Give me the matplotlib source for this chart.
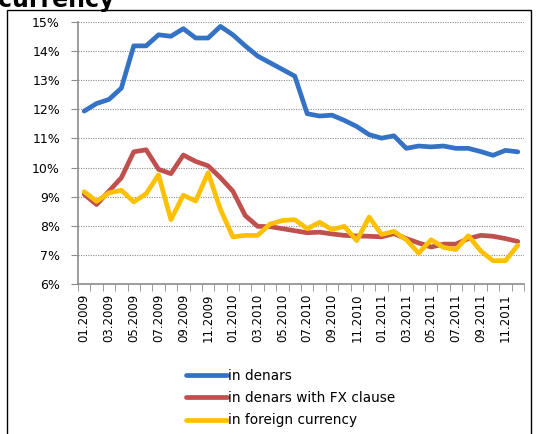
import numpy as np
import matplotlib
matplotlib.use("Agg")
import matplotlib.pyplot as plt
from matplotlib.patches import Rectangle

months = [f"{m:02d}.{y}" for y in (2009, 2010, 2011) for m in range(1, 13)]

in_denars = [11.94, 12.20, 12.34, 12.73, 14.18, 14.18, 14.56, 14.51, 14.77, 14.45, 14.45, 14.85,
             14.56, 14.18, 13.83, 13.60, 13.37, 13.14, 11.85, 11.77, 11.80, 11.62, 11.41, 11.13,
             11.01, 11.09, 10.66, 10.74, 10.71, 10.74, 10.66, 10.66, 10.55, 10.42, 10.59, 10.54]
fx_clause = [9.08, 8.73, 9.19, 9.65, 10.54, 10.61, 9.94, 9.79, 10.43, 10.21, 10.06, 9.65,
             9.19, 8.35, 7.98, 7.97, 7.90, 7.83, 7.76, 7.78, 7.72, 7.67, 7.65, 7.64,
             7.62, 7.73, 7.56, 7.41, 7.27, 7.37, 7.37, 7.56, 7.67, 7.64, 7.56, 7.46]
foreign = [9.17, 8.84, 9.13, 9.22, 8.82, 9.10, 9.75, 8.21, 9.05, 8.85, 9.82, 8.56,
           7.62, 7.67, 7.67, 8.06, 8.18, 8.21, 7.90, 8.12, 7.87, 7.98, 7.49, 8.30,
           7.70, 7.81, 7.52, 7.06, 7.52, 7.26, 7.18, 7.66, 7.14, 6.80, 6.80, 7.33]

W, H = 544, 434
fig = plt.figure(figsize=(W / 100, H / 100), dpi=100)
ax = fig.add_axes([78 / W, 1 - 284 / H, (524 - 78) / W, (284 - 22) / H])

x = np.arange(len(months))
ax.plot(x, in_denars, color="#3472C6", lw=3.4, label="in denars", solid_capstyle="round")
ax.plot(x, fx_clause, color="#C0504D", lw=3.4, label="in denars with FX clause", solid_capstyle="round")
ax.plot(x, foreign, color="#FFC000", lw=3.4, label="in foreign currency", solid_capstyle="round")

ax.set_xlim(-0.5, len(months) - 0.5)
ax.set_ylim(6, 15)
ax.set_yticks(np.arange(6, 16, 1))
ax.set_yticklabels([f"{v}%" for v in range(6, 16)], fontsize=9)
for v in range(7, 16):
    ax.axhline(v, color="#8c8c8c", lw=0.8, ls=(0, (1, 1.2)), zorder=0)

ax.set_xticks(x[::2])
ax.set_xticklabels(months[::2], rotation=90, fontsize=8.5)
ax.set_xticks(np.arange(-0.5, len(months), 1), minor=True)
ax.tick_params(axis="x", which="major", length=0, pad=7)
ax.tick_params(axis="x", which="minor", length=5, color="#8c8c8c", direction="out")
ax.tick_params(axis="y", length=5, color="#8c8c8c", pad=8)

for s in ("top", "right"):
    ax.spines[s].set_visible(False)
for s in ("left", "bottom"):
    ax.spines[s].set_color("#8c8c8c")
    ax.spines[s].set_linewidth(1.2)

fig.legend(loc="upper left", bbox_to_anchor=(186 / W, 1 - 369 / H), frameon=False,
           fontsize=9.8, handlelength=3.0, handletextpad=0.1, labelspacing=0.6,
           borderaxespad=0, borderpad=0)

fig.patches.append(Rectangle((7 / W, -0.05), (531 - 7) / W, 1.05 - 10 / H,
                             transform=fig.transFigure, fill=False, ec="black", lw=1))
fig.text(-2 / W, 1 - 6.5 / H, "currency", fontsize=17, fontweight="bold", va="baseline", ha="left")

fig.savefig("out.png", dpi=100)
